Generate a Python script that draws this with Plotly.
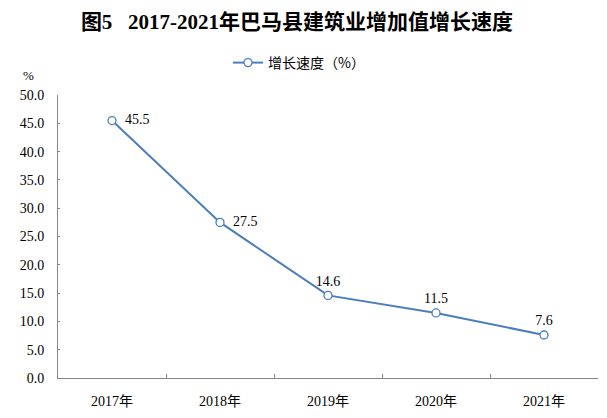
import plotly.graph_objects as go

years = ["2017年", "2018年", "2019年", "2020年", "2021年"]
growth = [45.5, 27.5, 14.6, 11.5, 7.6]
label_pos = ["middle right", "middle right", "top center", "top center", "top center"]
series_name = "增长速度（%）"
title_text = "图5   2017-2021年巴马县建筑业增加值增长速度"

blue = "#4a7ebb"
axis_gray = "#868686"
serif = "Liberation Serif, Noto Sans CJK SC"

labels = [("\u00a0\u00a0" if p == "middle right" else "") + f"{v:.1f}"
          for v, p in zip(growth, label_pos)]

fig = go.Figure()
fig.add_trace(go.Scatter(
    x=years, y=growth, name=series_name,
    mode="lines+markers+text",
    line=dict(color=blue, width=2),
    marker=dict(symbol="circle", size=8, color="white", line=dict(color=blue, width=1.3)),
    text=labels,
    textposition=label_pos,
    textfont=dict(family=serif, size=14, color="#000"),
    cliponaxis=False,
    hoverinfo="skip",
))

fig.update_layout(
    width=607, height=418,
    margin=dict(l=58, r=9, t=90, b=39),
    paper_bgcolor="white", plot_bgcolor="white",
    title=dict(text=title_text, x=297/607, xref="container", xanchor="center",
               y=1 - 22/418, yref="container", yanchor="middle",
               font=dict(family=serif, size=21, color="#000", weight="bold")),
    showlegend=True,
    legend=dict(orientation="h", x=299/607, xref="container", xanchor="center",
                y=1 - 63/418, yref="container", yanchor="middle",
                itemwidth=30,
                font=dict(family="Noto Sans CJK SC", size=14, color="#000"),
                bgcolor="rgba(0,0,0,0)"),
    xaxis=dict(type="category", range=[-0.5, 4.5], showline=True, linecolor=axis_gray,
               linewidth=1, ticks="inside", ticklen=4, tickcolor=axis_gray,
               tickson="boundaries", showgrid=False, zeroline=False,
               ticklabelstandoff=10,
               tickfont=dict(family=serif, size=14, color="#000")),
    yaxis=dict(range=[0, 50], dtick=5, tickformat=".1f", showline=True, linecolor=axis_gray,
               linewidth=1, ticks="inside", ticklen=2, tickcolor=axis_gray,
               showgrid=False, zeroline=False,
               ticklabelstandoff=10,
               tickfont=dict(family=serif, size=14, color="#000")),
    annotations=[dict(text="%", x=(28 - 58) / 540, y=(378 - 70) / 288,
                      xref="paper", yref="paper", xanchor="center", yanchor="middle",
                      showarrow=False, font=dict(family=serif, size=13, color="#000"))],
)

fig.write_html("out.html", config={"displayModeBar": False},
               post_script="document.body.style.margin='0';")
